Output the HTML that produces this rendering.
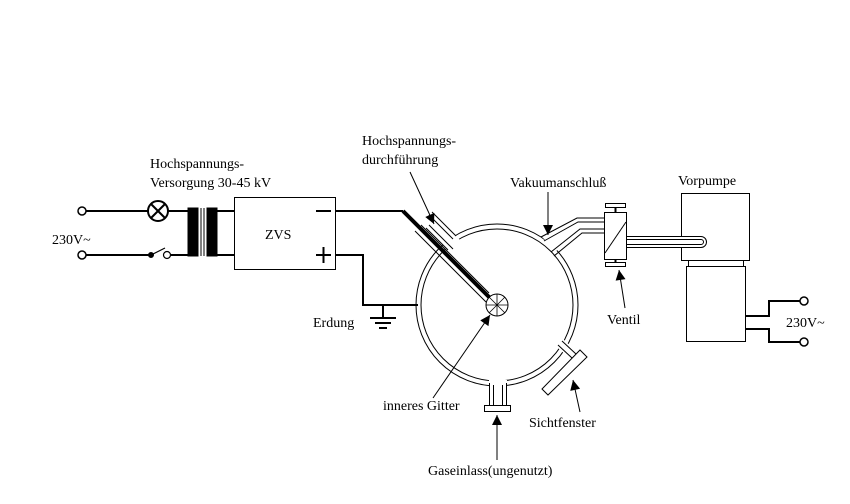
<!DOCTYPE html>
<html><head><meta charset="utf-8"><style>
html,body{margin:0;padding:0;background:#fff;}
svg text{font-family:"Liberation Serif",serif;font-size:14px;fill:#000;}
</style></head><body>
<svg width="850" height="499" viewBox="0 0 850 499" xmlns="http://www.w3.org/2000/svg">
<defs>
<marker id="ar" viewBox="0 0 10 10" refX="10" refY="5" markerWidth="12" markerHeight="10" orient="auto" markerUnits="userSpaceOnUse"><path d="M0,0 L10,5 L0,10 z" fill="#000"/></marker>
</defs>
<g stroke="#000" fill="none">
<circle cx="82" cy="211" r="4" stroke-width="1.5"/>
<circle cx="82" cy="255" r="4" stroke-width="1.5"/>
<line x1="86" y1="211" x2="148" y2="211" stroke-width="2"/>
<circle cx="158" cy="211" r="10" stroke-width="2"/>
<line x1="151" y1="204" x2="165" y2="218" stroke-width="2"/>
<line x1="165" y1="204" x2="151" y2="218" stroke-width="2"/>
<line x1="168" y1="211" x2="188" y2="211" stroke-width="2"/>
<line x1="86" y1="255" x2="150" y2="255" stroke-width="2"/>
<circle cx="151" cy="255" r="2.5" fill="#000"/>
<line x1="151" y1="255" x2="165" y2="248" stroke-width="1.2"/>
<circle cx="167" cy="255" r="3.5" stroke-width="1.2"/>
<line x1="171" y1="255" x2="188" y2="255" stroke-width="2"/>
<rect x="188" y="208" width="10" height="48" fill="#000"/>
<rect x="207" y="208" width="10" height="48" fill="#000"/>
<line x1="201" y1="208" x2="201" y2="256" stroke-width="1"/>
<line x1="204" y1="208" x2="204" y2="256" stroke-width="1"/>
<line x1="217" y1="211" x2="234" y2="211" stroke-width="2"/>
<line x1="217" y1="255" x2="234" y2="255" stroke-width="2"/>
<rect x="234.5" y="197.5" width="101" height="72" stroke-width="1"/>
<line x1="316" y1="211" x2="331" y2="211" stroke-width="2"/>
<line x1="316" y1="255" x2="331" y2="255" stroke-width="2"/>
<line x1="323.5" y1="247" x2="323.5" y2="263" stroke-width="2"/>
<line x1="336" y1="211" x2="403" y2="211" stroke-width="2"/>
<polyline points="336,255 363,255 363,305 418,305" stroke-width="2"/>
<line x1="383" y1="305" x2="383" y2="318" stroke-width="2"/>
<line x1="370" y1="318" x2="396" y2="318" stroke-width="2"/>
<line x1="375" y1="323" x2="391" y2="323" stroke-width="2"/>
<line x1="379" y1="328" x2="387" y2="328" stroke-width="2"/>
<circle cx="497" cy="305" r="81" stroke-width="1"/>
<circle cx="497" cy="305" r="76" stroke-width="1"/>
<polygon points="541,236 575,212 605,212 605,232 580,232 555,252 549,248 545,240" fill="#fff" stroke="none"/>
<polyline points="541,237 577,218 605,218" stroke-width="1"/>
<polyline points="544,241 578,222 605,222" stroke-width="1"/>
<polyline points="551,252 580,229 605,229" stroke-width="1"/>
<polyline points="554,256 582,233 605,233" stroke-width="1"/>
<rect x="604.5" y="212.5" width="22" height="47" fill="#fff" stroke-width="1"/>
<line x1="605" y1="253" x2="626" y2="222" stroke-width="1"/>
<line x1="615.5" y1="207" x2="615.5" y2="212" stroke-width="2"/>
<rect x="605.5" y="203.5" width="20" height="4" stroke-width="1"/>
<line x1="615.5" y1="260" x2="615.5" y2="263" stroke-width="2"/>
<rect x="605.5" y="262.5" width="20" height="4" stroke-width="1"/>
<rect x="681.5" y="193.5" width="68" height="67" fill="#fff" stroke-width="1"/>
<rect x="688.5" y="260.5" width="55" height="6" stroke-width="1"/>
<rect x="686.5" y="266.5" width="59" height="75" stroke-width="1"/>
<path d="M627,236.5 H701 A5.5,5.5 0 0 1 701,247.5 H627" stroke-width="1" fill="#fff"/>
<path d="M627,239.5 H701 A2.5,2.5 0 0 1 701,244.5 H627" stroke-width="1"/>
<polyline points="745,316 769,316 769,301 800,301" stroke-width="2"/>
<polyline points="745,329 769,329 769,342 800,342" stroke-width="2"/>
<circle cx="804" cy="301" r="4" stroke-width="1.5"/>
<circle cx="804" cy="342" r="4" stroke-width="1.5"/>
<rect x="489" y="380" width="18" height="26" fill="#fff" stroke="none"/>
<line x1="489.5" y1="383" x2="489.5" y2="405" stroke-width="1"/>
<line x1="493.5" y1="385" x2="493.5" y2="405" stroke-width="1"/>
<line x1="502.5" y1="385" x2="502.5" y2="405" stroke-width="1"/>
<line x1="506.5" y1="383" x2="506.5" y2="405" stroke-width="1"/>
<rect x="484.5" y="405.5" width="26" height="6" fill="#fff" stroke-width="1"/>
<polygon points="556,346 563,339 577,352 570,359" fill="#fff" stroke="none"/>
<line x1="558" y1="345" x2="572" y2="358" stroke-width="1"/>
<line x1="562" y1="341" x2="576" y2="354" stroke-width="1"/>
<polygon points="542,389 548,395 587,357 580,350" fill="#fff" stroke-width="1"/>
<!-- feedthrough: rod along (403+t,211+t) -->
<polygon points="425,219 435,215 460,240 446,250" fill="#fff" stroke="none"/>
<line x1="429" y1="225" x2="453" y2="249" stroke-width="1"/>
<line x1="426" y1="228" x2="448" y2="250" stroke-width="1"/>
<line x1="429" y1="215" x2="453" y2="239" stroke-width="1"/>
<line x1="432" y1="212" x2="456" y2="236" stroke-width="1"/>
<line x1="421" y1="225" x2="489" y2="293" stroke-width="1"/>
<line x1="415" y1="231" x2="486" y2="302" stroke-width="1"/>
<line x1="403" y1="211" x2="490" y2="298" stroke-width="4"/>
<circle cx="497" cy="305" r="11" fill="#fff" stroke-width="1"/>
<line x1="486" y1="305" x2="508" y2="305" stroke-width="0.8"/>
<line x1="497" y1="294" x2="497" y2="316" stroke-width="0.8"/>
<line x1="489" y1="297" x2="505" y2="313" stroke-width="0.8"/>
<line x1="505" y1="297" x2="489" y2="313" stroke-width="0.8"/>
<line x1="410" y1="172" x2="434" y2="224" stroke-width="1" marker-end="url(#ar)"/>
<line x1="548" y1="192" x2="548" y2="235" stroke-width="1" marker-end="url(#ar)"/>
<line x1="625" y1="308" x2="619" y2="270" stroke-width="1" marker-end="url(#ar)"/>
<line x1="433" y1="398" x2="490" y2="315" stroke-width="1" marker-end="url(#ar)"/>
<line x1="497" y1="460" x2="497" y2="415" stroke-width="1" marker-end="url(#ar)"/>
<line x1="580" y1="412" x2="573" y2="380" stroke-width="1" marker-end="url(#ar)"/>
</g>
<text x="150" y="168">Hochspannungs-</text>
<text x="150" y="187">Versorgung 30-45 kV</text>
<text x="52" y="244">230V~</text>
<text x="265" y="239">ZVS</text>
<text x="313" y="327">Erdung</text>
<text x="362" y="145">Hochspannungs-</text>
<text x="362" y="164">durchführung</text>
<text x="510" y="187">Vakuumanschluß</text>
<text x="678" y="185">Vorpumpe</text>
<text x="607" y="324">Ventil</text>
<text x="786" y="327">230V~</text>
<text x="383" y="410">inneres Gitter</text>
<text x="529" y="427">Sichtfenster</text>
<text x="428" y="475">Gaseinlass(ungenutzt)</text>
</svg>
</body></html>
